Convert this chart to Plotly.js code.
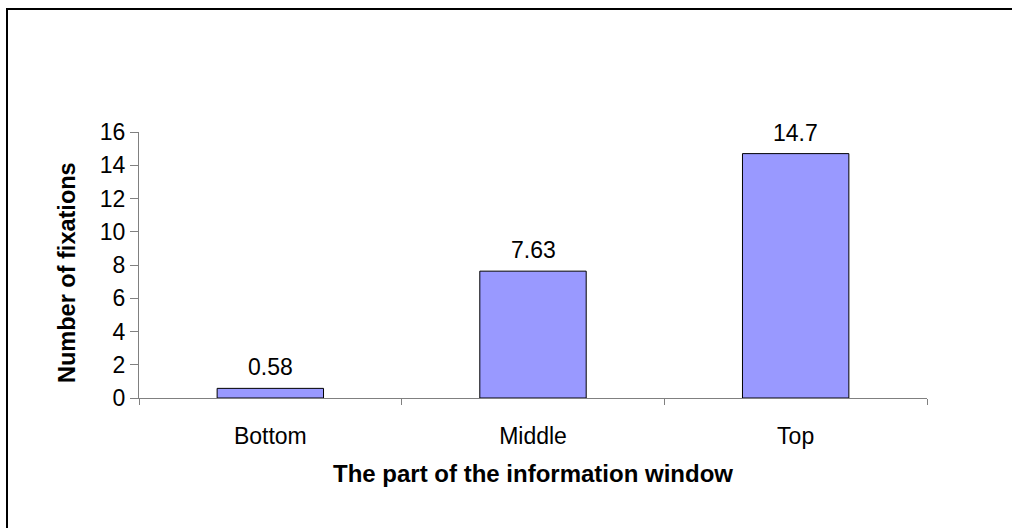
<!DOCTYPE html>
<html>
<head>
<meta charset="utf-8">
<script src="https://cdn.plot.ly/plotly-3.0.1.min.js"></script>
<style>
html,body{margin:0;padding:0;background:#fff;}
#chart{width:1012px;height:528px;}
</style>
</head>
<body>
<div id="chart"></div>
<script>
const categories = ["Bottom", "Middle", "Top"];
const fixations = [0.58, 7.63, 14.7];
const valueLabels = ["0.58", "7.63", "14.7"];
const yTicks = [0, 2, 4, 6, 8, 10, 12, 14, 16];
const xTitle = "The part of the information window";
const yTitle = "Number of fixations";

const W = 1012, H = 528;
const m = {l: 139, r: 85, t: 132, b: 130};
const pw = W - m.l - m.r, ph = H - m.t - m.b;
// outer chart-area frame (left edge ~7px, top edge ~9px, extends past right/bottom)
const fx0 = (7 - m.l) / pw, fx1 = (W + 20 - m.l) / pw;
const fy1 = (H - 9 - m.b) / ph, fy0 = (-20 - m.b) / ph;

const font = "Liberation Sans, Arial, sans-serif";
const fs = 23;

const valueAnnotations = categories.map((c, i) => ({
  x: c, y: fixations[i], xref: "x", yref: "y",
  text: valueLabels[i], showarrow: false,
  yanchor: "middle", yshift: 21,
  font: {family: font, size: fs, color: "#000"}
}));

Plotly.newPlot("chart", [{
  type: "bar",
  x: categories,
  y: fixations,
  width: 0.405,
  marker: {color: "#9999FF", line: {color: "#000", width: 1}},
  hoverinfo: "none"
}], {
  width: W, height: H,
  margin: m,
  paper_bgcolor: "#fff",
  plot_bgcolor: "#fff",
  showlegend: false,
  font: {family: font, size: fs, color: "#000"},
  xaxis: {
    type: "category",
    tickson: "boundaries",
    ticks: "outside",
    ticklen: 6,
    tickcolor: "#808080",
    tickwidth: 1,
    showline: true,
    linecolor: "#808080",
    linewidth: 1,
    showgrid: false,
    zeroline: false,
    ticklabelstandoff: 17,
    tickfont: {family: font, size: fs, color: "#000"},
    title: {text: xTitle, font: {family: font, size: 24, color: "#000", weight: "bold"}, standoff: 17}
  },
  yaxis: {
    range: [0, 16],
    tickvals: yTicks,
    ticks: "outside",
    ticklen: 8,
    tickcolor: "#808080",
    tickwidth: 1,
    showline: true,
    linecolor: "#808080",
    linewidth: 1,
    showgrid: false,
    zeroline: false,
    tickfont: {family: font, size: fs, color: "#000"}
  },
  annotations: valueAnnotations.concat([{
    xref: "paper", yref: "paper", x: (67 - m.l) / pw, y: 0.5,
    xanchor: "center", yanchor: "middle", yshift: -8,
    textangle: -90, showarrow: false, text: yTitle,
    font: {family: font, size: 23.5, color: "#000", weight: "bold"}
  }]),
  shapes: [{
    type: "rect", xref: "paper", yref: "paper",
    x0: fx0, x1: fx1, y0: fy0, y1: fy1,
    line: {color: "#000", width: 2}, fillcolor: "rgba(0,0,0,0)", layer: "below"
  }]
}, {displayModeBar: false, staticPlot: true});
</script>
</body>
</html>
